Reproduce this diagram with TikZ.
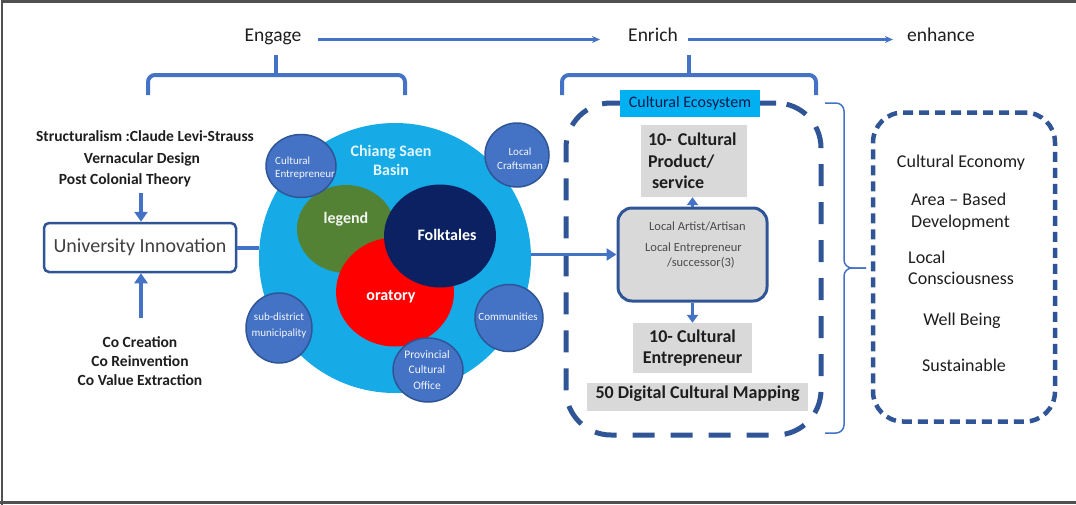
\documentclass[tikz,border=0pt]{standalone}
\usepackage{fontspec}
\setmainfont{Carlito}
\usetikzlibrary{shapes.geometric,arrows.meta,calc}
\definecolor{lblue}{HTML}{4472C4}
\definecolor{dblue}{HTML}{2F5597}
\definecolor{cyanb}{RGB}{22,170,230}
\definecolor{ecoc}{HTML}{00B0F0}
\definecolor{lgreen}{HTML}{548235}
\definecolor{navyc}{HTML}{0C2161}
\definecolor{gboxc}{HTML}{D9D9D9}
\definecolor{txt}{HTML}{1E1E1E}
\definecolor{framec}{HTML}{505050}
\newcommand\fsz[2]{\fontsize{#1}{#2}\selectfont}
\begin{document}
\begin{tikzpicture}[x=1pt,y=-1pt,
  one/.style={inner sep=0pt, text height=0.68em, text depth=0.2em},
  toplbl/.style={one, text=txt, font=\fsz{19.5}{23}},
  boldl/.style={one, text=txt, font=\bfseries\fsz{15.5}{19}},
  tarr/.style={draw=lblue, line width=2.3pt, -{Stealth[length=8pt,width=7pt]}},
  bracep/.style={draw=lblue, line width=4pt, rounded corners=7pt},
  arrfour/.style={draw=lblue, line width=4pt, -{Triangle[length=10pt,width=13pt]}},
  arrthree/.style={draw=lblue, line width=3pt, -{Triangle[length=8pt,width=11pt]}},
  smallc/.style={ellipse, draw=dblue, line width=1.5pt, fill=lblue, inner sep=0pt},
  ctext/.style={inner sep=0pt, text=white!94!lblue, font=\fsz{11}{14.5}, align=center},
  bigtxt/.style={inner sep=0pt, text=white, font=\bfseries\fsz{16}{19}, align=center},
  graybox/.style={fill=gboxc, inner sep=0pt, text=txt, font=\bfseries\fsz{18}{21.5}},
  outtxt/.style={inner sep=0pt, text=txt, font=\fsz{18}{21.5}, align=left}
]
\useasboundingbox (0,0) rectangle (1076,504);
% frame
\draw[framec, line width=2.5pt] (2,510) -- (2,1.5) -- (1080,1.5);
\draw[framec, line width=2.5pt] (0,502.5) -- (1080,502.5);

% top labels
\node[toplbl] (engage) at (273,39.5) {Engage};
\node[toplbl] (enrich) at (653,39.5) {Enrich};
\node[toplbl] (enhance) at (941,39.5) {enhance};
\draw[tarr, shorten <=16pt, shorten >=28pt] (engage.east) -- (enrich.west);
\draw[tarr, shorten <=10pt, shorten >=14pt] (enrich.east) -- (enhance.west);

% top braces
\draw[bracep] (148,95) -- (148,75) -- (405,75) -- (405,95);
\draw[draw=lblue, line width=4pt] (276,75) -- (276,55);
\draw[bracep] (562,95) -- (562,75) -- (816,75) -- (816,95);
\draw[draw=lblue, line width=4pt] (689,75) -- (689,55);

% left texts
\node[boldl] (stru) at (145,139) {Structuralism :Claude Levi-Strauss};
\node[boldl] (vern) at (142,161) {Vernacular Design};
\node[boldl] (postc) at (125,182) {Post Colonial Theory};
\node[inner sep=0pt, text=txt, font=\bfseries\fsz{15.5}{19}, align=center] (coc) at (140,361.5)
  {Co Creation\\Co Reinvention\\Co Value Extraction};

% university box
\node[draw=dblue, line width=2.5pt, rounded corners=5pt, fill=white, minimum width=192pt,
  minimum height=49pt, inner sep=0pt, text=txt!85!white, font=\fsz{20}{24}] (univ) at (140,247.5) {University Innovation};
\coordinate (pdown) at (141,193);
\coordinate (pup) at (141,318);
\draw[arrfour] (pdown) -- (pdown |- univ.north);
\draw[arrfour] (pup) -- (pup |- univ.south);

% big circle
\node[ellipse, fill=cyanb, minimum width=272pt, minimum height=270pt, inner sep=0pt] (bigc) at (395,258) {};
\draw[draw=lblue, line width=4pt] (univ.east) -- (univ.east -| bigc.west);
\node[ellipse, fill=lgreen, minimum width=98pt, minimum height=88pt, inner sep=0pt] (legc) at (346,229) {};
\node[ellipse, fill=red, minimum width=118pt, minimum height=109pt, inner sep=0pt] (orac) at (395,292) {};
\node[ellipse, fill=navyc, minimum width=112pt, minimum height=103pt, inner sep=0pt] (folkc) at (440,236) {};
\node[bigtxt, text=white!88!cyanb] (csb) at (391,160) {Chiang Saen\\Basin};
\node[bigtxt, text=white!92!lgreen] (legt) at (346,219) {legend};
\node[bigtxt] (folkt) at (447,235) {Folktales};
\node[bigtxt] (orat) at (391,297) {oratory};

% small circles
\node[smallc, minimum width=70pt, minimum height=63pt] (cec) at (301,166) {};
\node[smallc, minimum width=64pt, minimum height=64pt] (lcc) at (517,155) {};
\node[smallc, minimum width=66pt, minimum height=70pt] (sdc) at (279,328) {};
\node[smallc, minimum width=68pt, minimum height=67pt] (comc) at (509,318) {};
\node[smallc, minimum width=70pt, minimum height=64pt] (pcoc) at (428,370) {};
\node[ctext, align=left, anchor=west, font=\fsz{11}{13.5}] (cet) at (275,168) {Cultural\\Entrepreneur};
\node[ctext] (lct) at (520,158.5) {Local\\Craftsman};
\node[ctext, font=\fsz{11}{16}] (sdt) at (279,325.5) {sub-district\\municipality};
\node[ctext] (comt) at (508,316.5) {Communities};
\node[ctext, font=\fsz{11.5}{15.5}] (pcot) at (427,370) {Provincial\\Cultural\\Office};

% cultural ecosystem
\node[draw=dblue, line width=5pt, dash pattern=on 22pt off 16pt, rounded corners=45pt,
  minimum width=255pt, minimum height=332pt, inner sep=0pt] (eco) at (693.5,269) {};
\node[fill=ecoc, minimum width=140pt, minimum height=27pt, inner sep=0pt, text=navyc!80!black,
  font=\fsz{16}{19}] (ecolab) at (690,103.5) {Cultural Ecosystem};
\node[graybox, minimum height=72pt, text width=92pt, inner xsep=7pt, align=left] (prod) at (694,161)
  {10- Cultural\\Product/\\\hspace*{4pt}service};
\node[fill=gboxc, draw=dblue, line width=3pt, rounded corners=14pt, minimum width=149pt,
  minimum height=93pt, inner sep=0pt] (midbox) at (692.5,254.5) {};
\node[inner sep=0pt, anchor=west, text=txt!80!white, font=\fsz{12.5}{15}, align=left] (midt) at (645,245.5)
  {\hspace*{4pt}Local Artist/Artisan\\[6pt]Local Entrepreneur\\\hspace*{22pt}/successor(3)};
\node[graybox, minimum width=119pt, minimum height=50pt, align=center] (ent) at (692.5,348)
  {10- Cultural\\Entrepreneur};
\node[graybox, one, minimum width=221pt, minimum height=28pt] (dig) at (697.5,396.5)
  {50 Digital Cultural Mapping};
\draw[arrthree] (midbox.north) -- (midbox.north |- prod.south);
\draw[arrthree] (midbox.south) -- (midbox.south |- ent.north);
\draw[draw=lblue, line width=3pt, -{Triangle[length=10pt,width=12pt]}] (bigc.east |- midbox.west) -- (midbox.west);

% right brace
\draw[draw=lblue, line width=1.5pt, rounded corners=8pt] (825,103) -- (844,103) -- (844,268) -- (866,268);
\draw[draw=lblue, line width=1.5pt, rounded corners=8pt] (866,268) -- (844,268) -- (844,433) -- (825,433);

% outcome box
\node[draw=dblue, line width=4.5pt, dash pattern=on 10pt off 6pt, rounded corners=30pt,
  minimum width=182pt, minimum height=309pt, inner sep=0pt] (outb) at (964,267) {};
\node[outtxt, one] (o1) at (961,165) {Cultural Economy};
\node[outtxt, anchor=west] (o2) at (911,211.5) {Area – Based\\Development};
\node[outtxt, anchor=west] (o3) at (908,268) {Local\\Consciousness};
\node[outtxt, one] (o4) at (962,323) {Well Being};
\node[outtxt, one] (o5) at (964,369) {Sustainable};
\end{tikzpicture}
\end{document}
